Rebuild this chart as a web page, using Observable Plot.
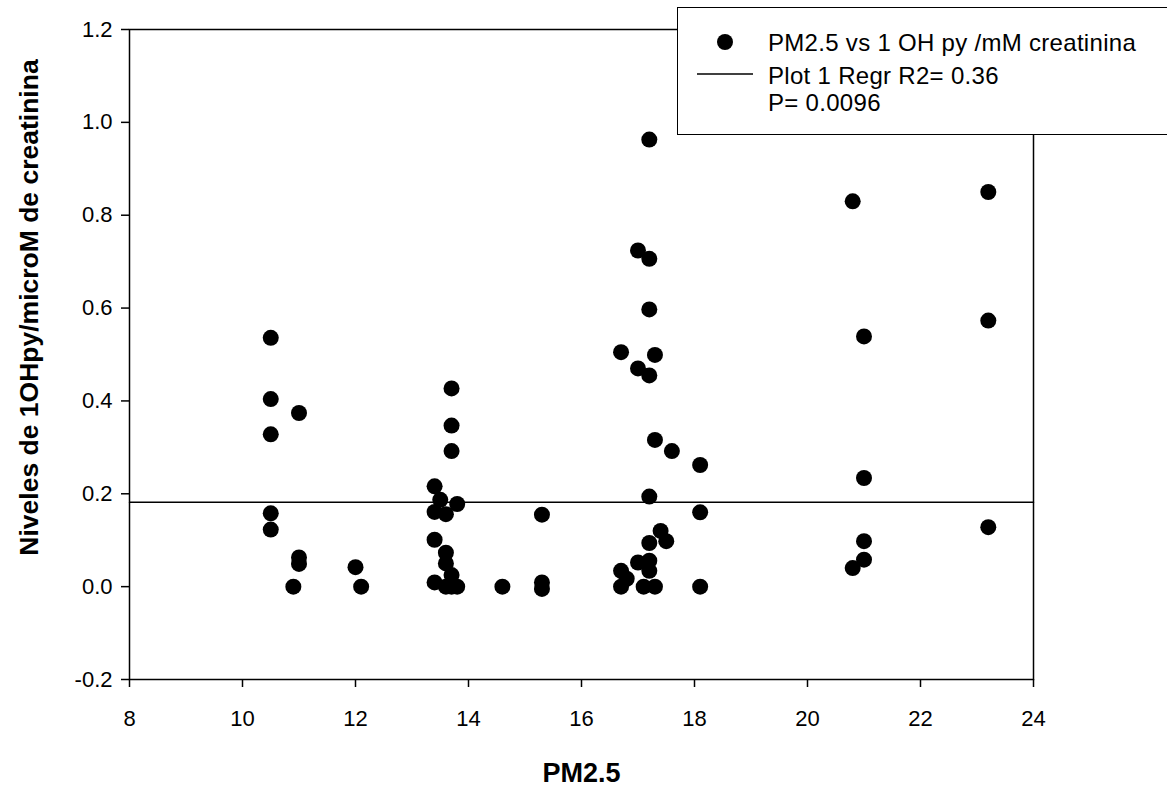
<!DOCTYPE html>
<html>
<head>
<meta charset="utf-8">
<script src="https://cdn.jsdelivr.net/npm/d3@7"></script>
<script src="https://cdn.jsdelivr.net/npm/@observablehq/plot@0.6"></script>
<style>
  html, body { margin: 0; padding: 0; background: #fff; overflow: hidden; }
  #wrap { position: relative; width: 1167px; height: 788px; font-family: "Liberation Sans", Arial, sans-serif; }
  #legend { position: absolute; left: 677px; top: 7px; width: 520px; height: 128px; border: 1.5px solid #000; background: #fff; box-sizing: border-box; }
  #legend svg { display: block; }
</style>
</head>
<body>
<div id="wrap">
  <div id="chart"></div>
  <div id="legend"></div>
</div>
<script>
// PM2.5 values (x) and 1-OH pyrene / creatinine (y)
const pm25 = [
  10.5, 10.5, 10.5, 10.5, 10.5,
  11.0, 11.0, 11.0, 10.9,
  12.0, 12.1,
  13.7, 13.7, 13.7,
  13.4, 13.4, 13.4, 13.4,
  13.5, 13.8,
  13.6, 13.6, 13.6, 13.6,
  13.7, 13.7, 13.8,
  14.6,
  15.3, 15.3, 15.3,
  16.7, 16.7, 16.7, 16.8,
  17.0, 17.0, 17.0,
  17.2, 17.2, 17.2, 17.2, 17.2, 17.2, 17.2, 17.2,
  17.1,
  17.3, 17.3, 17.3,
  17.4, 17.5, 17.6,
  18.1, 18.1, 18.1,
  20.8, 20.8,
  21.0, 21.0, 21.0, 21.0,
  23.2, 23.2, 23.2
];
const ohpy = [
  0.536, 0.404, 0.328, 0.158, 0.123,
  0.374, 0.063, 0.049, 0.000,
  0.042, 0.000,
  0.427, 0.347, 0.292,
  0.216, 0.161, 0.101, 0.009,
  0.187, 0.178,
  0.156, 0.073, 0.050, 0.000,
  0.025, 0.000, 0.000,
  0.000,
  0.155, 0.009, -0.005,
  0.505, 0.034, 0.000, 0.017,
  0.724, 0.470, 0.052,
  0.963, 0.706, 0.597, 0.455, 0.194, 0.094, 0.056, 0.034,
  0.000,
  0.499, 0.316, 0.000,
  0.120, 0.098, 0.292,
  0.262, 0.160, 0.000,
  0.830, 0.040,
  0.539, 0.234, 0.098, 0.058,
  0.850, 0.573, 0.128
];
// regression line (as drawn)
const regX = [8, 24];
const regY = [0.182, 0.182];

const xTicks = [8, 10, 12, 14, 16, 18, 20, 22, 24];
const yTicks = [-0.2, 0.0, 0.2, 0.4, 0.6, 0.8, 1.0, 1.2];
const yTickLabels = ["-0.2", "0.0", "0.2", "0.4", "0.6", "0.8", "1.0", "1.2"];

const xLabel = "PM2.5";
const yLabel = "Niveles de 1OHpy/microM de creatinina";
const legendDot = "PM2.5 vs 1 OH py /mM creatinina";
const legendLine = ["Plot 1 Regr R2= 0.36", "P= 0.0096"];

const points = pm25.map((x, i) => ({x, y: ohpy[i]}));
const reg = regX.map((x, i) => ({x, y: regY[i]}));

const font = '"Liberation Sans", Arial, sans-serif';

const chart = Plot.plot({
  width: 1167,
  height: 788,
  marginLeft: 129,
  marginRight: 134,
  marginTop: 29,
  marginBottom: 109,
  style: {fontFamily: font, background: "white", color: "black"},
  x: {domain: [8, 24]},
  y: {domain: [-0.2, 1.2]},
  marks: [
    Plot.axisX({ticks: xTicks, tickSize: 8, tickPadding: 23, fontSize: 22, label: null, tickFormat: d => String(d), strokeWidth: 1.5}),
    Plot.axisY({ticks: yTicks, tickSize: 8, tickPadding: 9, fontSize: 22, label: null,
      tickFormat: d => yTickLabels[yTicks.indexOf(d)], strokeWidth: 1.5}),
    Plot.line(reg, {x: "x", y: "y", stroke: "black", strokeWidth: 1.5}),
    Plot.dot(points, {x: "x", y: "y", r: 8, fill: "black", stroke: null}),
    Plot.frame({stroke: "black", strokeWidth: 1.5}),
    Plot.text([xLabel], {text: d => d, frameAnchor: "bottom", dy: 94, fontSize: 27, fontWeight: "bold", lineAnchor: "middle", textAnchor: "middle"}),
    Plot.text([yLabel], {text: d => d, frameAnchor: "left", dx: -100, dy: -47, rotate: -90, fontSize: 26.5, fontWeight: "bold", lineAnchor: "middle", textAnchor: "middle"})
  ]
});
document.getElementById("chart").appendChild(chart);

// Legend
const lg = d3.select("#legend").append("svg").attr("width", 520).attr("height", 124)
  .style("font-family", font);
lg.append("circle").attr("cx", 47).attr("cy", 34).attr("r", 8).attr("fill", "black");
lg.append("text").attr("x", 90).attr("y", 43).attr("font-size", 24).attr("letter-spacing", 0.3).text(legendDot);
lg.append("line").attr("x1", 19).attr("x2", 75).attr("y1", 66).attr("y2", 66).attr("stroke", "black").attr("stroke-width", 1.3);
lg.append("text").attr("x", 90).attr("y", 76).attr("font-size", 24).attr("letter-spacing", 0.3).text(legendLine[0]);
lg.append("text").attr("x", 90).attr("y", 103).attr("font-size", 24).attr("letter-spacing", 0.3).text(legendLine[1]);
</script>
</body>
</html>
